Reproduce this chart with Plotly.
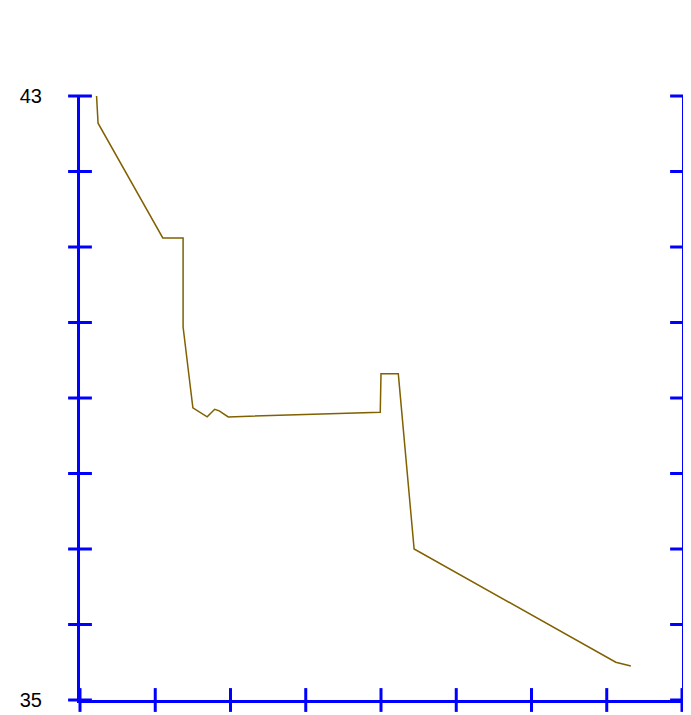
import plotly.graph_objects as go

# Data (x in axis units 0..8, y in 35..43)
x_vals = [0.22, 0.24, 1.10, 1.37, 1.37, 1.50, 1.69, 1.79, 1.85, 1.97, 3.99, 4.00, 4.23, 4.44, 7.12, 7.32]
y_vals = [43.00, 42.64, 41.12, 41.12, 39.94, 38.87, 38.75, 38.85, 38.83, 38.75, 38.81, 39.32, 39.32, 37.00, 35.50, 35.45]

y_ticks = [35, 36, 37, 38, 39, 40, 41, 42, 43]
y_tick_text = ["35", "", "", "", "", "", "", "", "43"]
x_ticks = [0, 1, 2, 3, 4, 5, 6, 7, 8]
x_min, x_max = 0, 8
y_min, y_max = 35, 43

BLUE = "#0000ff"
LINE = "#806000"

fig = go.Figure()
fig.add_trace(go.Scatter(x=x_vals, y=y_vals, mode="lines",
                         line=dict(color=LINE, width=1.5), showlegend=False,
                         hoverinfo="skip"))

tick_marker_h = dict(symbol="line-ew", size=17, line=dict(color=BLUE, width=3))
tick_marker_v = dict(symbol="line-ns", size=17, line=dict(color=BLUE, width=3))
# crossing tick marks on left and right y axes
for xv in (x_min, x_max):
    fig.add_trace(go.Scatter(x=[xv] * len(y_ticks), y=y_ticks, mode="markers",
                             marker=tick_marker_h, cliponaxis=False,
                             showlegend=False, hoverinfo="skip"))
# crossing tick marks on bottom x axis
fig.add_trace(go.Scatter(x=x_ticks, y=[y_min] * len(x_ticks), mode="markers",
                         marker=tick_marker_v, cliponaxis=False,
                         showlegend=False, hoverinfo="skip"))

fig.update_layout(
    width=691, height=715,
    margin=dict(l=71, r=17, t=88, b=21),
    paper_bgcolor="white", plot_bgcolor="white",
    font=dict(family="Liberation Sans, Arial, sans-serif", size=20, color="black"),
    xaxis=dict(range=[x_min, x_max], tickvals=x_ticks, showticklabels=False, ticks="",
               showline=True, linecolor=BLUE, linewidth=3, showgrid=False,
               zeroline=False),
    yaxis=dict(range=[y_min, y_max], tickvals=y_ticks, ticktext=y_tick_text, ticks="",
               tickfont=dict(size=20), showline=True, linecolor=BLUE, linewidth=3,
               mirror=True, showgrid=False, zeroline=False, ticklabelstandoff=31),
)

fig.write_html("out.html")
